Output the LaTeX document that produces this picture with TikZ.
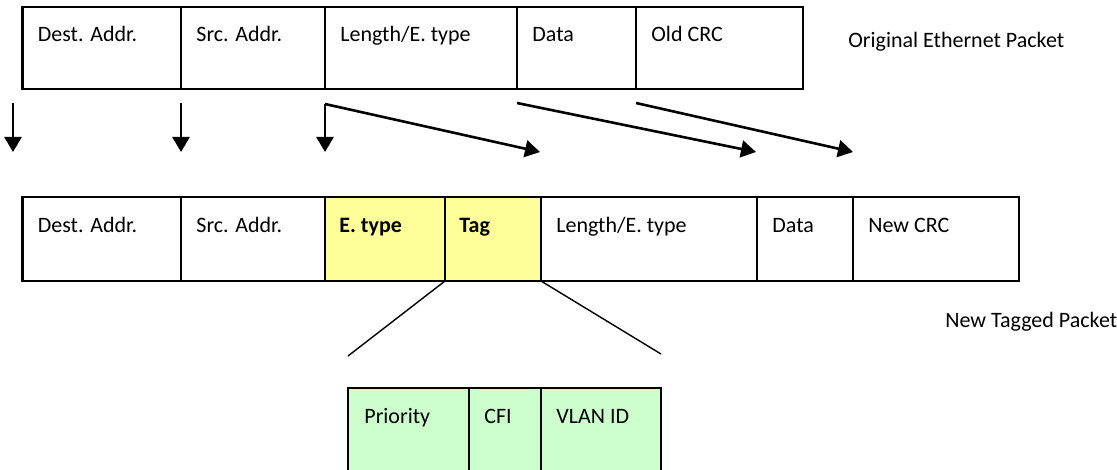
\documentclass[tikz,border=0pt]{standalone}
\usepackage{fontspec}
\setmainfont{Carlito}
\usetikzlibrary{arrows.meta}
\definecolor{tagyellow}{HTML}{FFFF99}
\definecolor{taggreen}{HTML}{CCFFCC}
\begin{document}
\begin{tikzpicture}[x=0.5pt,y=-0.5pt,
  cell/.style={draw, line width=1.1pt, anchor=north west, inner sep=0pt, outer sep=0pt},
  toprow/.style={cell, minimum height=41pt},
  botrow/.style={cell, minimum height=42pt},
  grnrow/.style={cell, minimum height=50pt, fill=taggreen},
  lbl/.style={anchor=base west, inner sep=0pt, font=\fontsize{11pt}{13pt}\selectfont},
  arr/.style={line width=1.3pt, -{Triangle[length=7.5pt,width=8.5pt]}},
  zoomline/.style={line width=0.7pt}]
\useasboundingbox (0,0) rectangle (1117,470);
\clip (0,0) rectangle (1117,470);

% ---- original packet ----
\node[toprow, minimum width=79.25pt] (td) at (22.5,7) {};
\node[toprow, minimum width=72pt] (ts) at (181,7) {};
\node[toprow, minimum width=96pt] (tl) at (325,7) {};
\node[toprow, minimum width=59.5pt] (tdata) at (517,7) {};
\node[toprow, minimum width=83.5pt] (tcrc) at (636,7) {};
\node[lbl] (tdT) at (37.5,42) {Dest. Addr.};
\node[lbl] (tsT) at (196,42) {Src. Addr.};
\node[lbl] (tlT) at (340,42) {Length/E. type};
\node[lbl] (tdataT) at (532,42) {Data};
\node[lbl] (tcrcT) at (651,42) {Old CRC};
\node[lbl] (orig) at (848,48) {Original Ethernet Packet};

% ---- tagged packet ----
\node[botrow, minimum width=79.25pt] (bd) at (22.5,197) {};
\node[botrow, minimum width=72pt] (bs) at (181,197) {};
\node[botrow, minimum width=60pt, fill=tagyellow] (be) at (325,197) {};
\node[botrow, minimum width=48pt, fill=tagyellow] (bt) at (445,197) {};
\node[botrow, minimum width=108pt] (bl) at (541,197) {};
\node[botrow, minimum width=48pt] (bdata) at (757,197) {};
\node[botrow, minimum width=83pt] (bcrc) at (853,197) {};
\node[lbl] (bdT) at (37.5,233) {Dest. Addr.};
\node[lbl] (bsT) at (196,233) {Src. Addr.};
\node[lbl] (beT) at (339,233) {\bfseries E. type};
\node[lbl] (btT) at (459,233) {\bfseries Tag};
\node[lbl] (blT) at (556,233) {Length/E. type};
\node[lbl] (bdataT) at (772,233) {Data};
\node[lbl] (bcrcT) at (868,233) {New CRC};
\node[lbl] (newp) at (945,327) {New Tagged Packet};

% ---- tag detail ----
\node[grnrow, minimum width=60.5pt] (gp) at (348,388) {};
\node[grnrow, minimum width=36pt] (gc) at (469,388) {};
\node[grnrow, minimum width=60pt] (gv) at (541,388) {};
\node[lbl] (gpT) at (364,423) {Priority};
\node[lbl] (gcT) at (484,423) {CFI};
\node[lbl] (gvT) at (556,423) {VLAN ID};

% ---- arrows ----
\coordinate (a1s) at (13,103);  \coordinate (a1e) at (13,152);
\coordinate (a2s) at (181,103); \coordinate (a2e) at (181,152);
\coordinate (a3s) at (325,104); \coordinate (a3e) at (325,152);
\coordinate (a3d) at (540,152);
\coordinate (a4s) at (517,103); \coordinate (a4e) at (756,152);
\coordinate (a5s) at (636,103); \coordinate (a5e) at (853,152);
\draw[arr] (a1s) -- (a1e);
\draw[arr] (a2s) -- (a2e);
\draw[arr] (a3s) -- (a3e);
\draw[arr] (a3s) -- (a3d);
\draw[arr] (a4s) -- (a4e);
\draw[arr] (a5s) -- (a5e);

% ---- zoom lines ----
\coordinate (zl) at (348,356);
\coordinate (zr) at (661,354);
\draw[zoomline] (bt.south west) -- (zl);
\draw[zoomline] (bt.south east) -- (zr);
\end{tikzpicture}
\end{document}
